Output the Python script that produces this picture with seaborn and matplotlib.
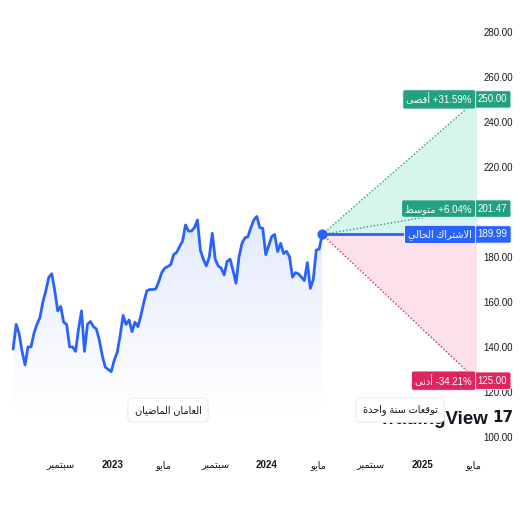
"""
توقعات السعر لسنة واحدة: خط السعر لعامين + مروحة التوقعات.
"""

import matplotlib

matplotlib.use("Agg")
import matplotlib.pyplot as plt
import matplotlib.dates as mdates
import matplotlib.transforms as mtransforms
from matplotlib.colors import LinearSegmentedColormap
from matplotlib.patches import Polygon
import numpy as np
import pandas as pd
import seaborn as sns

sns.set_style("white")
plt.rcParams["font.family"] = ["Liberation Sans", "DejaVu Sans"]

# ---- data ----
start_date = "2022-05-13"
prices = [
    139, 150, 146, 138, 132, 140, 140, 146, 150, 153,
    160, 165, 171, 172.5, 165, 156, 158, 151, 150, 140,
    140, 138, 148, 156, 138, 150, 151.3, 149, 148, 143,
    136, 131, 130, 129, 134, 137.5, 145, 154, 150, 152,
    146.8, 151, 149, 154, 160, 165, 165.5, 165.5, 165.8, 169,
    173, 175, 175.7, 176.5, 181, 182, 184.6, 187, 194.2, 191.5,
    191.5, 193, 196.4, 183, 179, 176, 180, 190.5, 179, 176,
    175, 172, 178, 179, 174, 168.3, 180, 186, 188.5, 189,
    193, 196.5, 198, 193, 192.7, 181, 185, 189, 190, 182.4,
    186, 181.5, 182.5, 180, 171, 173, 172.5, 171, 169.5, 177.5,
    166, 170, 183, 183.5, 189.99,
]
current_price = 189.99
forecast_values = [250.00, 201.47, 125.00]
forecast_pct = ["+31.59%", "+6.04%", "-34.21%"]
forecast_names = ["أقصى", "متوسط", "أدنى"]
current_name = "الاشتراك الحالي"
tick_dates = ["2022-09-01", "2023-01-01", "2023-05-01", "2023-09-01", "2024-01-01",
              "2024-05-01", "2024-09-01", "2025-01-01", "2025-05-01"]
tick_labels = ["سبتمبر", "2023", "مايو", "سبتمبر", "2024", "مايو", "سبتمبر", "2025", "مايو"]
y_ticks = [100, 120, 140, 160, 180, 200, 220, 240, 260, 280]
past_label = "العامان الماضيان"
future_label = "توقعات سنة واحدة"

BLUE = "#2962ff"
GREEN = "#22a07f"
RED = "#e0245e"

# ---- minimal arabic shaping (matplotlib has none) ----
DUAL = {"ب": 0xFE8F, "ت": 0xFE95, "ح": 0xFEA1, "س": 0xFEB1, "ش": 0xFEB5,
        "ص": 0xFEB9, "ض": 0xFEBD, "ط": 0xFEC1, "ع": 0xFEC9, "ق": 0xFED5,
        "ك": 0xFED9, "ل": 0xFEDD, "م": 0xFEE1, "ن": 0xFEE5, "ي": 0xFEF1}
RIGHT = {"ا": 0xFE8D, "أ": 0xFE83, "ة": 0xFE93, "د": 0xFEA9, "ر": 0xFEAD,
         "و": 0xFEED, "ى": 0xFEEF}


def ar(text):
    out = []
    i = 0
    n = len(text)
    while i < n:
        c = text[i]
        prev = i > 0 and text[i - 1] in DUAL
        if c == "ل" and i + 1 < n and text[i + 1] in ("ا", "أ"):
            base = 0xFEFB if text[i + 1] == "ا" else 0xFEF7
            out.append(chr(base + (1 if prev else 0)))
            i += 2
            continue
        if c in DUAL:
            nxt = i + 1 < n and (text[i + 1] in DUAL or text[i + 1] in RIGHT)
            out.append(chr(DUAL[c] + (1 if prev else 0) + (2 if nxt else 0)))
        elif c in RIGHT:
            out.append(chr(RIGHT[c] + (1 if prev else 0)))
        else:
            out.append(c)
        i += 1
    return "".join(reversed(out))


# ---- figure ----
df = pd.DataFrame({
    "date": pd.date_range(start_date, periods=len(prices), freq="7D"),
    "price": prices,
})
t0 = df["date"].iloc[-1]
t1 = t0 + pd.DateOffset(years=1)

fig = plt.figure(figsize=(5.2, 5.2), dpi=100)
ax = fig.add_axes([0, 75 / 520, 478 / 520, 425 / 520])

# gradient fill below the price line
xnum = mdates.date2num(df["date"])
fill_bottom = 112
verts = [(xnum[0], fill_bottom)] + list(zip(xnum, prices)) + [(xnum[-1], fill_bottom)]
poly = Polygon(verts, closed=True, facecolor="none", edgecolor="none")
ax.add_patch(poly)
cmap = LinearSegmentedColormap.from_list("fade", ["#ffffff", "#e4eafc"])
grad = np.linspace(1, 0, 256).reshape(-1, 1)
im = ax.imshow(grad, extent=[xnum[0], xnum[-1], fill_bottom, max(prices)],
               aspect="auto", cmap=cmap, origin="upper", zorder=1)
im.set_clip_path(poly)

sns.lineplot(data=df, x="date", y="price", ax=ax, color=BLUE, lw=2, zorder=4)

# forecast fan
x0, x1 = mdates.date2num(t0), mdates.date2num(t1)
ax.add_patch(Polygon([(x0, current_price), (x1, forecast_values[0]), (x1, current_price)],
                     closed=True, facecolor="#d6f5ed", edgecolor="none", zorder=1))
ax.add_patch(Polygon([(x0, current_price), (x1, current_price), (x1, forecast_values[2])],
                     closed=True, facecolor="#fde1ea", edgecolor="none", zorder=1))
for val, col in zip(forecast_values, [GREEN, GREEN, RED]):
    ax.plot([t0, t1], [current_price, val], color=col, lw=1, ls=(0, (1, 1.5)), zorder=3)
ax.plot([t0, t1], [current_price, current_price], color=BLUE, lw=2, zorder=4)
ax.scatter([t0], [current_price], s=40, color=BLUE, zorder=5)

ax.set_xlim(pd.Timestamp("2022-04-12"), pd.Timestamp("2025-05-12"))
ax.set_ylim(96.4, 285.3)

# axes (a tick label sitting under a price box is hidden, as on the chart)
covered = [v for v in y_ticks
           if any(abs(v - b) < 3 for b in forecast_values + [current_price])]
ax.yaxis.tick_right()
ax.set_yticks(y_ticks)
ax.set_yticklabels(["" if v in covered else f"{v:.2f}" for v in y_ticks],
                   fontsize=7, color="#131722")
ax.set_xticks(pd.to_datetime(tick_dates))
ax.set_xticklabels([t if t.isdigit() else ar(t) for t in tick_labels], fontsize=7,
                   color="#131722")
for lab in ax.get_xticklabels():
    if lab.get_text().isdigit():
        lab.set_fontweight("bold")
ax.tick_params(axis="both", length=0)
ax.tick_params(axis="y", pad=4)
ax.tick_params(axis="x", pad=11)
ax.set_xlabel("")
ax.set_ylabel("")
for s in ax.spines.values():
    s.set_visible(False)

# watermark
fig.text(489 / 520, 1 - 419 / 520, "TradingView", fontsize=13.5, fontweight="bold",
         color="#131722", ha="right", va="center", zorder=1)
fig.text(492 / 520, 1 - 418 / 520, "17", fontsize=11, fontweight="bold",
         color="#131722", ha="left", va="center", family="DejaVu Sans", zorder=1)

# right-hand price boxes
trans = mtransforms.blended_transform_factory(fig.transFigure, ax.transData)
box_cols = [GREEN, GREEN, RED]
box = dict(boxstyle="round,pad=0.38,rounding_size=0.2", ec="white", lw=0.6)
for val, pct, name, col in zip(forecast_values, forecast_pct, forecast_names, box_cols):
    ax.text(492.5 / 520, val, f"{val:.2f}", transform=trans, ha="center", va="center",
            fontsize=7, color="white", clip_on=False, zorder=10, bbox=dict(box, fc=col))
    ax.text(472 / 520, val, ar(name) + " " + pct, transform=trans, ha="right", va="center",
            fontsize=7, color="white", clip_on=False, zorder=10, bbox=dict(box, fc=col))
ax.text(492.5 / 520, current_price, f"{current_price:.2f}", transform=trans, ha="center",
        va="center", fontsize=7, color="white", clip_on=False, zorder=10,
        bbox=dict(box, fc=BLUE))
ax.text(472 / 520, current_price, ar(current_name), transform=trans, ha="right",
        va="center", fontsize=7, color="white", clip_on=False, zorder=10,
        bbox=dict(box, fc=BLUE))

# section labels
for x, lab in [(168, past_label), (400, future_label)]:
    fig.text(x / 520, 1 - 410 / 520, ar(lab), ha="center", va="center", fontsize=7,
             color="#131722", zorder=20,
             bbox=dict(boxstyle="round,pad=0.7,rounding_size=0.5", fc="white",
                       ec="#ececec", lw=0.8))

fig.savefig("out.png", dpi=100)
